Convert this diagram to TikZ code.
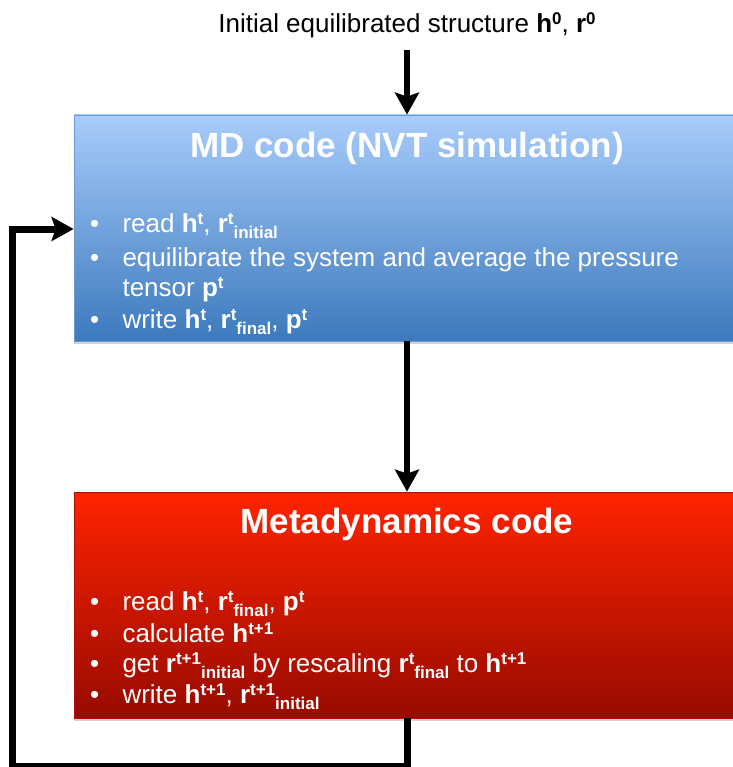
\documentclass[tikz,border=0pt]{standalone}
\usepackage{fontspec}
\setmainfont{Liberation Sans}
\usetikzlibrary{arrows.meta}
\usetikzlibrary{shadows}

\definecolor{mdtop}{HTML}{A8CCFB}
\definecolor{mdbot}{HTML}{3C79BC}
\definecolor{mdline}{HTML}{6A9AD6}
\definecolor{metatop}{HTML}{FF2300}
\definecolor{metabot}{HTML}{970A00}
\definecolor{metaline}{HTML}{B01000}

\newcommand\hsup[1]{\raisebox{8pt}{\fontsize{17}{17}\selectfont\bfseries #1}}
\newcommand\hsub[1]{\raisebox{-6pt}{\fontsize{17}{17}\selectfont\bfseries #1}}

\begin{document}
\begin{tikzpicture}
    [x=1pt, y=-1pt,
    codebox/.style={rectangle, minimum width=666pt, minimum height=226pt, inner sep=0pt, line width=0.8pt,
        drop shadow={opacity=0.35, shadow xshift=0pt, shadow yshift=-3pt}},
    boxtitle/.style={anchor=base, text=white, font=\fontsize{35}{42}\selectfont\bfseries},
    itemtext/.style={anchor=base west, text=white, font=\fontsize{26}{31}\selectfont},
    flow/.style={line width=6pt, -{Stealth[length=22pt, width=24pt, inset=4pt]}}]
    \useasboundingbox (0,0) rectangle (732,767);

    \node(init)[anchor=base, font=\fontsize{26}{31}\selectfont] at (407,33)
        {Initial equilibrated structure \textbf{h}\hsup{0}, \textbf{r}\hsup{0}};

    \node(md)[codebox, draw=mdline, top color=mdtop, bottom color=mdbot] at (407,228) {};
    \node(mdtitle)[boxtitle] at (407,158) {MD code (NVT simulation)};
    \foreach \y/\txt [count=\i] in {232/{\makebox[32.5pt][l]{\textbullet}read \textbf{h}\hsup{t}, \textbf{r}\hsup{t}\hsub{initial}},
        266/{\makebox[32.5pt][l]{\textbullet}equilibrate the system and average the pressure},
        296/{\hspace*{32.5pt}tensor \textbf{p}\hsup{t}},
        328/{\makebox[32.5pt][l]{\textbullet}write \textbf{h}\hsup{t}, \textbf{r}\hsup{t}\hsub{final}, \textbf{p}\hsup{t}}}{
        \node(mdl\i)[itemtext] at (86.5,\y) {\txt};
    }

    \node(meta)[codebox, draw=metaline, top color=metatop, bottom color=metabot] at (407,605) {};
    \node(metatitle)[boxtitle] at (407,533) {Metadynamics code};
    \foreach \y/\txt [count=\i] in {610/{\makebox[32.5pt][l]{\textbullet}read \textbf{h}\hsup{t}, \textbf{r}\hsup{t}\hsub{final}, \textbf{p}\hsup{t}},
        642/{\makebox[32.5pt][l]{\textbullet}calculate \textbf{h}\hsup{t+1}},
        672/{\makebox[32.5pt][l]{\textbullet}get \textbf{r}\hsup{t+1}\hsub{initial} by rescaling \textbf{r}\hsup{t}\hsub{final} to \textbf{h}\hsup{t+1}},
        703/{\makebox[32.5pt][l]{\textbullet}write \textbf{h}\hsup{t+1}, \textbf{r}\hsup{t+1}\hsub{initial}}}{
        \node(metal\i)[itemtext] at (86.5,\y) {\txt};
    }

    \coordinate(turn) at (12,766);
    \coordinate(entry) at (12,229);
    \draw[flow, shorten <=8pt] (init.south) -- (init.south |- md.north);
    \draw[flow] (init |- md.south) -- (init |- meta.north);
    \draw[flow, line width=7pt] (init |- meta.south) -- (init |- turn) -- (turn) -- (entry) -- (md.west |- entry);
\end{tikzpicture}
\end{document}
